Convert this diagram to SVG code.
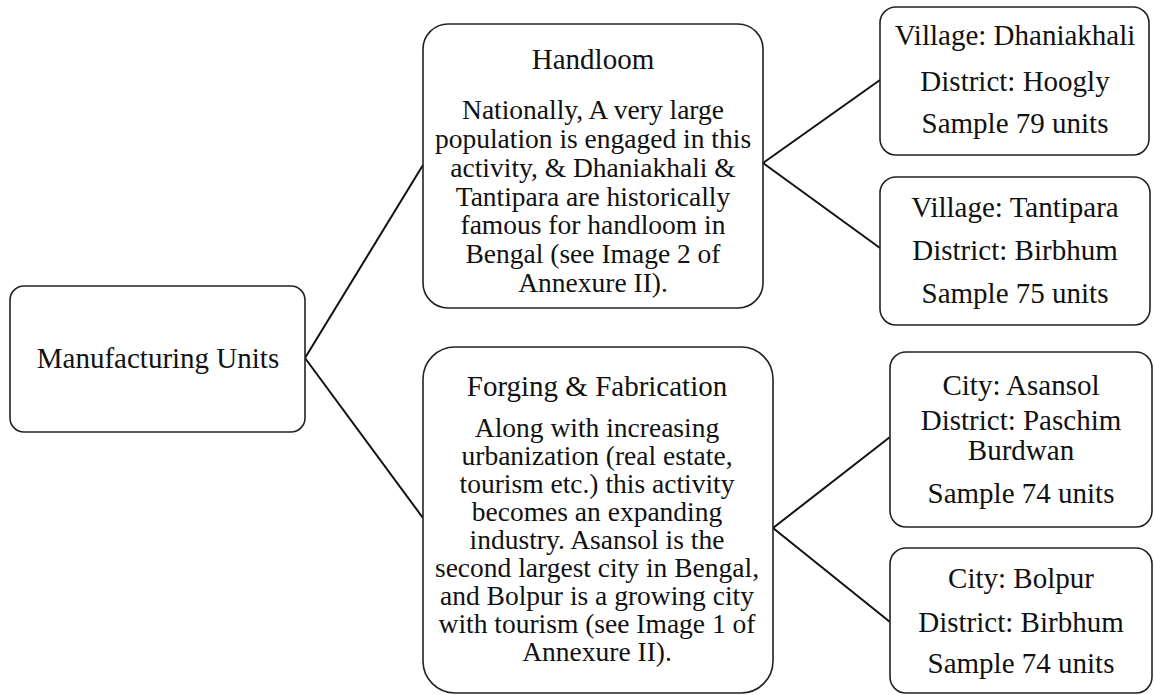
<svg xmlns="http://www.w3.org/2000/svg" width="1154" height="695" viewBox="0 0 1154 695">
<style>
.box{fill:#fff;stroke:#222;stroke-width:1.6}
.t{font-family:"Liberation Serif","Times New Roman",serif;fill:#111;text-anchor:middle}
.title{font-size:29px}
.body{font-size:27.5px}
.conn line{stroke:#111;stroke-width:2}
</style>
<rect width="1154" height="695" fill="#fff"/>
<g id="connectors" class="conn">
<line x1="305" y1="358" x2="423" y2="165"/>
<line x1="305" y1="358" x2="423" y2="518"/>
<line x1="763" y1="163" x2="880" y2="80"/>
<line x1="763" y1="163" x2="880" y2="248"/>
<line x1="773" y1="528" x2="890" y2="437"/>
<line x1="773" y1="528" x2="890" y2="622"/>
</g>
<g id="manufacturing">
<rect class="box" x="10" y="286" width="295" height="146" rx="14"/>
<text class="t title" x="158" y="368">Manufacturing Units</text>
</g>
<g id="handloom">
<rect class="box" x="423" y="24" width="340" height="284" rx="25"/>
<text class="t title" x="593" y="69">Handloom</text>
<text class="t body" x="593" y="119">Nationally, A very large</text>
<text class="t body" x="593" y="148">population is engaged in this</text>
<text class="t body" x="593" y="177">activity, &amp; Dhaniakhali &amp;</text>
<text class="t body" x="593" y="206">Tantipara are historically</text>
<text class="t body" x="593" y="234">famous for handloom in</text>
<text class="t body" x="593" y="263">Bengal (see Image 2 of</text>
<text class="t body" x="593" y="292">Annexure II).</text>
</g>
<g id="forging">
<rect class="box" x="423" y="347" width="350" height="346" rx="32"/>
<text class="t title" x="597" y="396">Forging &amp; Fabrication</text>
<text class="t body" x="597" y="437">Along with increasing</text>
<text class="t body" x="597" y="465">urbanization (real estate,</text>
<text class="t body" x="597" y="493">tourism etc.) this activity</text>
<text class="t body" x="597" y="521">becomes an expanding</text>
<text class="t body" x="597" y="549">industry. Asansol is the</text>
<text class="t body" x="597" y="577">second largest city in Bengal,</text>
<text class="t body" x="597" y="605">and Bolpur is a growing city</text>
<text class="t body" x="597" y="633">with tourism (see Image 1 of</text>
<text class="t body" x="597" y="661">Annexure II).</text>
</g>
<g id="dhaniakhali">
<rect class="box" x="880" y="7" width="269" height="148" rx="16"/>
<text class="t title" x="1015" y="45">Village: Dhaniakhali</text>
<text class="t title" x="1015" y="91">District: Hoogly</text>
<text class="t title" x="1015" y="133">Sample 79 units</text>
</g>
<g id="tantipara">
<rect class="box" x="880" y="177" width="270" height="148" rx="16"/>
<text class="t title" x="1015" y="217">Village: Tantipara</text>
<text class="t title" x="1015" y="260">District: Birbhum</text>
<text class="t title" x="1015" y="303">Sample 75 units</text>
</g>
<g id="asansol">
<rect class="box" x="890" y="352" width="262" height="175" rx="16"/>
<text class="t title" x="1021" y="395">City: Asansol</text>
<text class="t title" x="1021" y="430">District: Paschim</text>
<text class="t title" x="1021" y="460">Burdwan</text>
<text class="t title" x="1021" y="503">Sample 74 units</text>
</g>
<g id="bolpur">
<rect class="box" x="890" y="548" width="262" height="145" rx="16"/>
<text class="t title" x="1021" y="588">City: Bolpur</text>
<text class="t title" x="1021" y="632">District: Birbhum</text>
<text class="t title" x="1021" y="673">Sample 74 units</text>
</g>
</svg>
